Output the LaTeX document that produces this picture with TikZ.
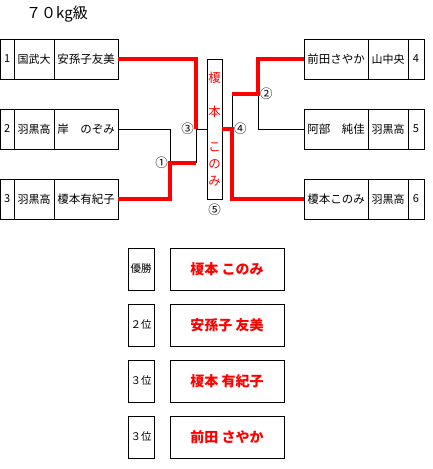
\documentclass[tikz,border=0pt]{standalone}
\usepackage{fontspec}
\setmainfont{Noto Sans CJK JP}
\usepackage{tikz}
\usetikzlibrary{positioning}
\usepackage{xcolor}

\begin{document}
\begin{tikzpicture}[x=1pt, y=-1pt,
  cell/.style={draw, line width=0.8pt, minimum height=40pt, inner sep=0pt, outer sep=0pt, font=\fontsize{11}{13}\selectfont},
  player/.style={cell, minimum width=64pt, font=\fontsize{11.5}{13}\selectfont},
  school/.style={cell, minimum width=40pt},
  rank/.style={cell, minimum height=42pt, minimum width=26pt, font=\fontsize{10.5}{12}\selectfont},
  medal/.style={cell, minimum height=42pt, minimum width=114pt, text=red, font=\fontsize{14}{16}\selectfont\bfseries},
  win/.style={red, line width=3.5pt},
  lose/.style={black, line width=0.8pt},
  circnum/.style={inner sep=0pt, font=\fontsize{12.5}{13}\selectfont}]
\useasboundingbox (0,0) rectangle (432,469);
\node[anchor=west, inner sep=0pt, font=\fontsize{15}{17}\selectfont] (title) at (26,14) {７０kg級};

% left block
\node[cell, minimum width=13.5pt] (no1) at (7.25,59) {1};
\node[school, right=0pt of no1] (sc1) {国武大};
\node[player, right=0pt of sc1] (pl1) {安孫子友美};
\node[cell, minimum width=13.5pt] (no2) at (7.25,129) {2};
\node[school, right=0pt of no2] (sc2) {羽黒高};
\node[player, right=0pt of sc2] (pl2) {岸　のぞみ};
\node[cell, minimum width=13.5pt] (no3) at (7.25,199) {3};
\node[school, right=0pt of no3] (sc3) {羽黒高};
\node[player, right=0pt of sc3] (pl3) {榎本有紀子};

% right block
\node[player] (pl4) at (336,59) {前田さやか};
\node[school, right=0pt of pl4] (sc4) {山中央};
\node[cell, minimum width=16pt, right=0pt of sc4] (no4) {4};
\node[player] (pl5) at (336,129) {阿部　純佳};
\node[school, right=0pt of pl5] (sc5) {羽黒高};
\node[cell, minimum width=16pt, right=0pt of sc5] (no5) {5};
\node[player] (pl6) at (336,199) {榎本このみ};
\node[school, right=0pt of pl6] (sc6) {羽黒高};
\node[cell, minimum width=16pt, right=0pt of sc6] (no6) {6};

% final
\node[cell, minimum width=15pt, minimum height=140pt, text=red, align=center, font=\fontsize{12.5}{17}\selectfont] (fin) at (214.5,129) {榎\\[17pt]本\\[18pt]こ\\の\\み};

% junctions
\coordinate (j1) at (170,163);
\coordinate (j3) at (196,129);
\coordinate (j2) at (258,94);
\coordinate (j4) at (232,129);

\draw[lose] (pl2.east) -| (j1);
\draw[lose] (j3) -- (j1 -| j3);
\draw[lose] (j3) -- (fin.west);
\draw[lose] (pl5.west) -| (j2);
\draw[lose] (j2 -| j4) -- (j4);
\draw[win] (pl3.east) -| (j1) -- (j1 -| j3);
\draw[win] (pl1.east) -| (j3);
\draw[win] (pl4.west) -| (j2) -- (j2 -| j4);
\draw[win] (pl6.west) -| (j4) -- (fin.east);

\node[circnum, left=2pt of j1] (m1) {①};
\node[circnum, left=2pt of j3] (m3) {③};
\node[circnum, right=2pt of j2] (m2) {②};
\node[circnum, right=2pt of j4] (m4) {④};
\node[circnum, below=5pt of fin] (m5) {⑤};

% results
\node[rank] (r1) at (141,269) {優勝};
\node[medal] (w1) at (227,269) {榎本 このみ};
\node[rank] (r2) at (141,325) {２位};
\node[medal] (w2) at (227,325) {安孫子 友美};
\node[rank] (r3) at (141,381) {３位};
\node[medal] (w3) at (227,381) {榎本 有紀子};
\node[rank] (r4) at (141,437) {３位};
\node[medal] (w4) at (227,437) {前田 さやか};
\end{tikzpicture}
\end{document}
